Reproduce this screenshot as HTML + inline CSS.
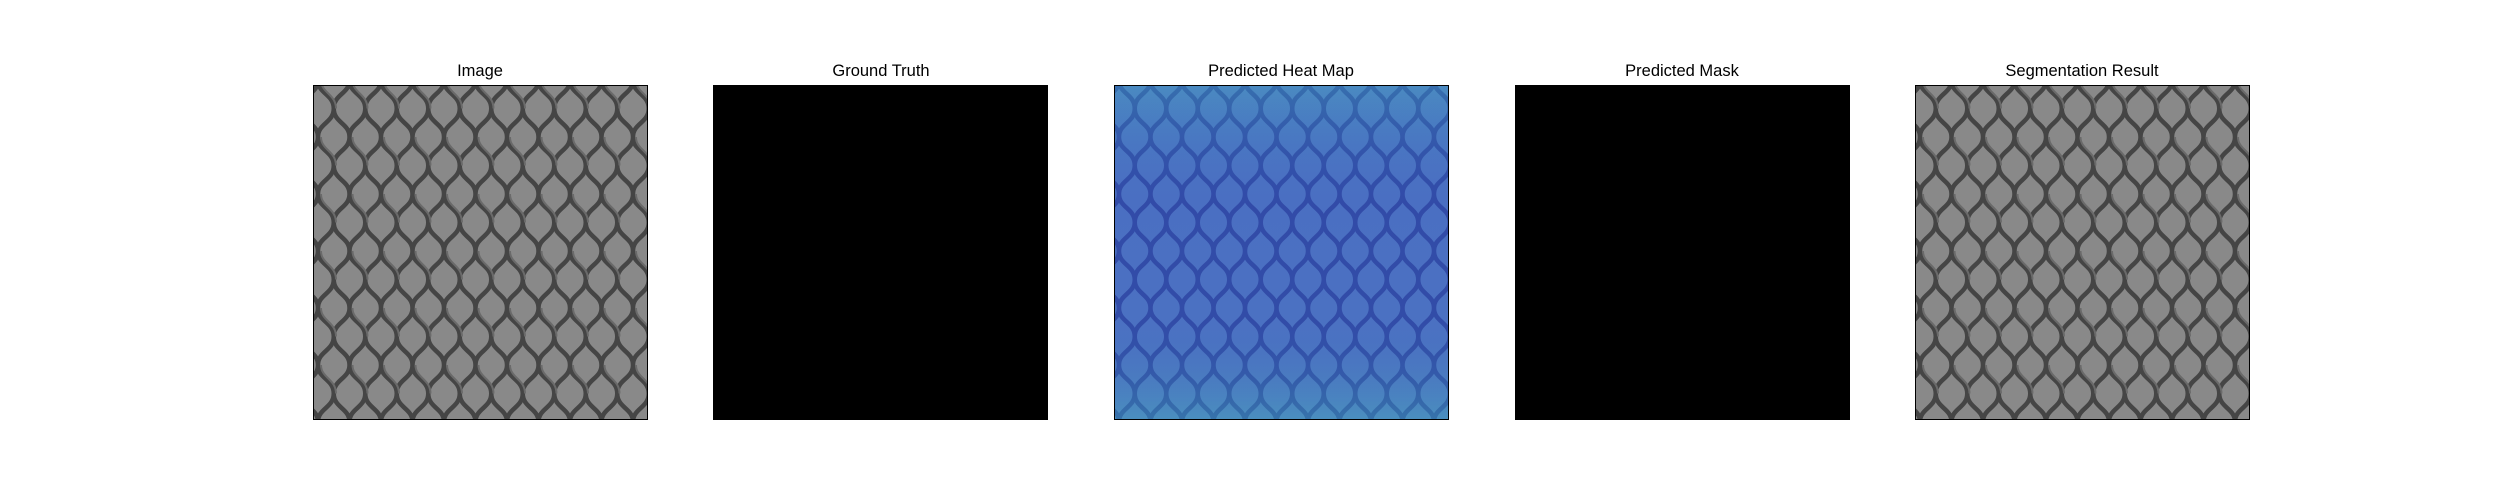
<!DOCTYPE html>
<html><head><meta charset="utf-8"><style>
html,body{margin:0;padding:0;background:#fff;width:2500px;height:500px;overflow:hidden}
.title{position:absolute;font-family:"Liberation Sans","DejaVu Sans",sans-serif;font-size:16.5px;color:#000;text-align:center;width:400px;top:62px}
.panel{position:absolute;top:85px;width:335px;height:335px;box-sizing:border-box;border:1.3px solid #000;overflow:hidden}
</style></head><body>
<svg width="0" height="0" style="position:absolute">
<defs>
<pattern id="mesh" patternUnits="userSpaceOnUse" width="31.5" height="57" x="4" y="-6">
<rect width="31.5" height="57" fill="#898989"/>
<path d="M0,0 C0,14 15.75,14 15.75,28.5 C15.75,43 0,43 0,57" stroke="#454545" stroke-width="4.5" fill="none"/>
<path d="M31.5,0 C31.5,14 15.75,14 15.75,28.5 C15.75,43 31.5,43 31.5,57" stroke="#454545" stroke-width="4.5" fill="none"/>
<path d="M3,0 C3,13 18,14 18,28.5" stroke="#6a6a6a" stroke-width="2" fill="none"/>
</pattern>
<pattern id="mesh-blue" patternUnits="userSpaceOnUse" width="31.5" height="57" x="4" y="-6">
<rect width="31.5" height="57" fill="#4f7ac2"/>
<path d="M0,0 C0,14 15.75,14 15.75,28.5 C15.75,43 0,43 0,57" stroke="#3250a4" stroke-width="4.5" fill="none"/>
<path d="M31.5,0 C31.5,14 15.75,14 15.75,28.5 C15.75,43 31.5,43 31.5,57" stroke="#3250a4" stroke-width="4.5" fill="none"/>
</pattern>
<linearGradient id="heat-grad" x1="0" y1="0" x2="0" y2="1">
<stop offset="0" stop-color="#40a8c0" stop-opacity="0.35"/>
<stop offset="0.35" stop-color="#3030c0" stop-opacity="0.15"/>
<stop offset="0.7" stop-color="#3030c0" stop-opacity="0.12"/>
<stop offset="1" stop-color="#40b8b8" stop-opacity="0.35"/>
</linearGradient>
</defs>
</svg>

<div class="title" style="left:280px">Image</div>
<svg class="panel" style="left:313px" width="335" height="335"><rect width="335" height="335" fill="url(#mesh)"/></svg>

<div class="title" style="left:681px">Ground Truth</div>
<div class="panel" style="left:713px;background:#000"></div>

<div class="title" style="left:1081px">Predicted Heat Map</div>
<svg class="panel" style="left:1114px" width="335" height="335"><rect width="335" height="335" fill="url(#mesh-blue)"/><rect width="335" height="335" fill="url(#heat-grad)"/></svg>

<div class="title" style="left:1482px">Predicted Mask</div>
<div class="panel" style="left:1515px;background:#000"></div>

<div class="title" style="left:1882px">Segmentation Result</div>
<svg class="panel" style="left:1915px" width="335" height="335"><rect width="335" height="335" fill="url(#mesh)"/></svg>
</body></html>
